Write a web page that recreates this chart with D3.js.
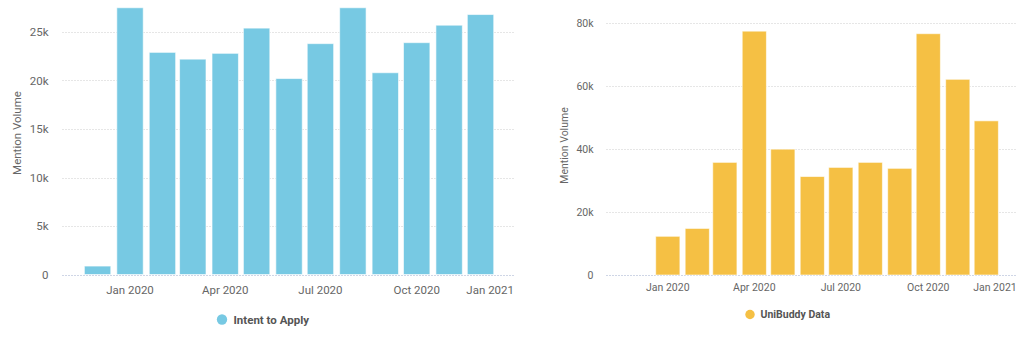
<!DOCTYPE html>
<html><head><meta charset="utf-8">
<script src="https://cdn.jsdelivr.net/npm/d3@7"></script>
<style>body{margin:0;background:#fff;}svg{display:block;font-family:Roboto,"Noto Sans",sans-serif;}</style>
</head><body><svg id="c" width="1024" height="337"></svg>
<script>
const months = ["2019-12-01","2020-01-01","2020-02-01","2020-03-01","2020-04-01","2020-05-01","2020-06-01","2020-07-01","2020-08-01","2020-09-01","2020-10-01","2020-11-01","2020-12-01"];
const intentValues = [870,27500,22900,22200,22800,25400,20200,23800,27500,20800,23900,25700,26800];
const unibuddyValues = [0,12300,14800,35800,77500,40000,31300,34200,35800,33900,76700,62200,49000];
const xTickDates = ["2020-01-01","2020-04-01","2020-07-01","2020-10-01","2021-01-01"];
const xTickLabels = ["Jan 2020","Apr 2020","Jul 2020","Oct 2020","Jan 2021"];
const leftYTicks = [0,5000,10000,15000,20000,25000];
const rightYTicks = [0,20000,40000,60000,80000];
const leftSeriesName = "Intent to Apply";
const rightSeriesName = "UniBuddy Data";
const axisTitle = "Mention Volume";

const parse = d3.utcParse("%Y-%m-%d");
const svg = d3.select("#c");

function drawChart(cfg){
  const g = svg.append("g");
  const x = d3.scaleUtc().domain([parse("2019-10-28"), parse("2021-01-02")]).range([cfg.x0, cfg.x1]);
  const y = d3.scaleLinear().domain([0, cfg.yMax]).range([cfg.y0, cfg.yTop]);
  // grid
  g.selectAll("line.grid").data(cfg.yTicks).join("line")
    .attr("x1", cfg.x0).attr("x2", cfg.x1)
    .attr("y1", d => Math.round(y(d)) + 0.5).attr("y2", d => Math.round(y(d)) + 0.5)
    .attr("stroke", d => d === 0 ? "#cfd6e6" : "#e6e6e6")
    .attr("stroke-dasharray", "2,1").attr("stroke-width", 1);
  // y labels
  g.selectAll("text.yl").data(cfg.yTicks).join("text")
    .attr("x", cfg.yLabelX).attr("y", d => y(d)).attr("dy", "0.35em")
    .attr("text-anchor", "end").attr("fill", "#666").attr("font-size", cfg.fs + "px")
    .text(d => d === 0 ? "0" : d3.format("d")(d / 1000) + "k");
  // axis title
  g.append("text").attr("transform", `translate(${cfg.titleX},${cfg.titleY}) rotate(-90)`)
    .attr("text-anchor", "middle").attr("fill", "#666").attr("font-size", cfg.fs + "px")
    .text(axisTitle);
  // bars
  g.selectAll("rect.bar").data(months.map((m, i) => ({d: parse(m), v: cfg.values[i]})).filter(o => o.v > 0)).join("rect")
    .attr("x", o => x(o.d) - cfg.bw / 2).attr("width", cfg.bw)
    .attr("y", o => y(o.v)).attr("height", o => y(0) - y(o.v))
    .attr("fill", cfg.color).attr("stroke", "#fff").attr("stroke-opacity", 0.6).attr("stroke-width", 1);
  // x labels
  const xl = g.selectAll("text.xl").data(xTickDates).join("text")
    .attr("y", cfg.xLabelY).attr("dy", "0.35em")
    .attr("fill", "#666").attr("font-size", cfg.fs + "px")
    .text((d, i) => xTickLabels[i]);
  xl.each(function(d){
    const t = d3.select(this);
    const w = this.getComputedTextLength();
    let cx = x(parse(d));
    if (cx + w / 2 > cfg.x1) cx = cfg.x1 - w / 2;
    t.attr("x", cx).attr("text-anchor", "middle");
  });
  // legend
  const lg = g.append("g");
  lg.append("circle").attr("cx", cfg.legX).attr("cy", cfg.legY).attr("r", cfg.fs * 0.45).attr("fill", cfg.color);
  lg.append("text").attr("x", cfg.legX + cfg.fs).attr("y", cfg.legY).attr("dy", "0.35em")
    .attr("fill", "#555").attr("font-weight", "bold").attr("font-size", cfg.fs + "px").text(cfg.name);
}

drawChart({x0: 62, x1: 514, y0: 274.5, yTop: 32, yMax: 25000, yTicks: leftYTicks, values: intentValues,
  color: "#77c9e3", bw: 26.4, fs: 11.5, yLabelX: 48.5, titleX: 21, titleY: 133, xLabelY: 289.5,
  legX: 222, legY: 319.5, name: leftSeriesName});
drawChart({x0: 606, x1: 1016.7, y0: 275, yTop: 23.3, yMax: 80000, yTicks: rightYTicks, values: unibuddyValues,
  color: "#f5c044", bw: 24.2, fs: 10.5, yLabelX: 593.5, titleX: 568, titleY: 145.5, xLabelY: 287.5,
  legX: 750, legY: 314.5, name: rightSeriesName});
</script></body></html>
